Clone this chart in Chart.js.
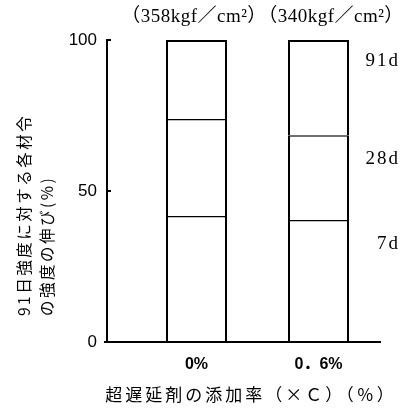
<!DOCTYPE html>
<html>
<head>
<meta charset="utf-8">
<script src="https://cdn.jsdelivr.net/npm/chart.js@4.4.0/dist/chart.umd.min.js"></script>
<style>
  html, body { margin: 0; padding: 0; background: #fff; }
</style>
</head>
<body>
<canvas id="myChart" width="418" height="408"></canvas>
<script>
// 超遅延剤の添加率ごとの材令別強度比（91日強度 = 100%）
const categories = ['0%', '0．6%'];
const strengths = ['（358kgf／cm²）', '（340kgf／cm²）'];
const ageLabels = ['7d', '28d', '91d'];
// 積み上げの各区間（%）
const gain7d = [41.7, 40.4];
const gain28d = [32.1, 28.1];
const gain91d = [26.2, 31.5];
const yTicks = [0, 50, 100];

const serif = "'Liberation Serif', 'DejaVu Serif', 'Noto Sans CJK JP'";
const jp = "'Noto Sans CJK JP', 'Noto Sans'";

// 軸・注記を描くプラグイン
const annotate = {
  id: 'annotate',
  afterDatasetsDraw(chart) {
    const ctx = chart.ctx;
    const y = chart.scales.y;
    const y0 = y.getPixelForValue(0);
    const yTop = y.getPixelForValue(100);
    ctx.save();
    ctx.strokeStyle = '#000';
    ctx.lineWidth = 2;
    // 縦軸
    ctx.beginPath();
    ctx.moveTo(107, yTop - 1);
    ctx.lineTo(107, y0 + 1);
    ctx.stroke();
    // 目盛（内向き）
    yTicks.forEach(v => {
      if (v === 0) return;
      const py = y.getPixelForValue(v);
      ctx.beginPath();
      ctx.moveTo(107, py);
      ctx.lineTo(111, py);
      ctx.stroke();
    });
    // 横軸
    ctx.beginPath();
    ctx.moveTo(104, y0);
    ctx.lineTo(381, y0);
    ctx.stroke();

    ctx.fillStyle = '#000';
    ctx.textBaseline = 'middle';

    // 上部の強度
    ctx.font = '19px ' + serif;
    ctx.textAlign = 'center';
    ctx.letterSpacing = '0.5px';
    const topX = [194, 331];
    strengths.forEach((s, i) => ctx.fillText(s, topX[i], 17));

    // 右側の材令ラベル
    ctx.font = '19px ' + serif;
    ctx.textAlign = 'right';
    ctx.letterSpacing = '2px';
    const ageAt = [32.5, 60.5, 93];
    ageLabels.forEach((s, i) => ctx.fillText(s, 400, y.getPixelForValue(ageAt[i])));

    // 横軸タイトル
    ctx.font = '17px ' + jp;
    ctx.textAlign = 'center';
    ctx.letterSpacing = '3px';
    ctx.fillText('超遅延剤の添加率（×Ｃ）（％）', 251, 395);

    // 縦軸タイトル（2行、下揃え）
    ctx.font = '15.5px ' + jp;
    ctx.letterSpacing = '2.5px';
    ctx.textAlign = 'left';
    [['91日強度に対する各材令', 24], ['の強度の伸び(%)', 47]].forEach(([t, px]) => {
      ctx.save();
      ctx.translate(px, 316);
      ctx.rotate(-Math.PI / 2);
      ctx.fillText(t, 0, 0);
      ctx.restore();
    });
    ctx.restore();
  }
};

const segStyle = (top) => ({
  backgroundColor: '#fff',
  borderColor: '#000',
  borderWidth: { top: top, left: 2, right: 2, bottom: 0 },
  borderSkipped: false,
  barPercentage: 0.5,
  categoryPercentage: 1.0
});

const ctx = document.getElementById('myChart').getContext('2d');
const chart = new Chart(ctx, {
  type: 'bar',
  data: {
    labels: categories,
    datasets: [
      Object.assign({ label: ageLabels[0], data: gain7d }, segStyle(1.5)),
      Object.assign({ label: ageLabels[1], data: gain28d }, segStyle(1.5)),
      Object.assign({ label: ageLabels[2], data: gain91d }, segStyle(2))
    ]
  },
  options: {
    responsive: false,
    animation: false,
    devicePixelRatio: 1,
    layout: { padding: { top: 40, right: 38.5, left: 0, bottom: 0 } },
    plugins: {
      legend: { display: false },
      tooltip: { enabled: false }
    },
    scales: {
      x: {
        stacked: true,
        grid: { display: false, drawTicks: false },
        border: { display: false },
        ticks: {
          color: '#000',
          padding: 13,
          font: { family: "'Liberation Sans Narrow', 'Liberation Sans', 'Noto Sans CJK JP'", size: 16, weight: 'bold' }
        },
        afterFit: s => { s.height = 66; }
      },
      y: {
        stacked: true,
        min: 0,
        max: 100,
        grid: { display: false, drawTicks: false },
        border: { display: false },
        afterBuildTicks: s => { s.ticks = yTicks.map(v => ({ value: v })); },
        ticks: {
          color: '#000',
          padding: 38.5,
          font: { family: "'Liberation Sans Narrow', 'Liberation Sans'", size: 17 }
        },
        afterFit: s => { s.width = 135.5; s.paddingTop = 0; s.paddingBottom = 0; }
      }
    }
  },
  plugins: [annotate]
});
</script>
</body>
</html>
